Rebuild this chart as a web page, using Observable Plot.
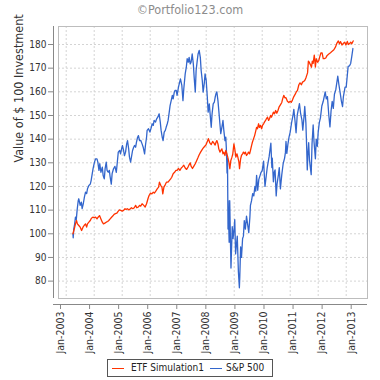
<!DOCTYPE html>
<html>
<head>
<meta charset="utf-8">
<script src="https://cdn.jsdelivr.net/npm/d3@7"></script>
<script src="https://cdn.jsdelivr.net/npm/@observablehq/plot@0.6"></script>
<style>
  html, body { margin: 0; padding: 0; background: #fff; }
  #wrap { position: relative; width: 380px; height: 380px; overflow: hidden; font-family: "DejaVu Sans Condensed", "DejaVu Sans", sans-serif; }
  #title { position: absolute; left: 0; top: 0; width: 380px; height: 20px; line-height: 20px; text-align: center; color: #8c8c8c; font-size: 12.5px; }
  #chart { position: absolute; left: 0; top: 20px; }
  #legend { position: absolute; left: 107px; top: 359px; width: 164px; height: 16px; border: 1px solid #555; background: #fff; font-size: 10px; color: #222; }
  #legend .sw { position: absolute; top: 8px; height: 1px; }
  #legend .lb { position: absolute; top: 0; line-height: 16px; white-space: nowrap; }
</style>
</head>
<body>
<div id="wrap">
  <div id="title">©Portfolio123.com</div>
  <div id="chart"></div>
  <div id="legend"></div>
</div>
<script>
// ---- Data ----
const seriesNames = ["ETF Simulation1", "S&P 500"];
const seriesColors = ["#ff3300", "#3366cc"];
const yLabel = "Value of $ 100 Investment";
const xTickYears = [2003, 2004, 2005, 2006, 2007, 2008, 2009, 2010, 2011, 2012, 2013];
const yTickValues = [80, 90, 100, 110, 120, 130, 140, 150, 160, 170, 180];

// S&P 500 (blue): time in decimal years, value
const spTime = [
2003.24,2003.25,2003.27,2003.30,2003.33,2003.36,2003.39,2003.43,2003.45,2003.50,2003.54,2003.57,2003.61,2003.65,2003.69,2003.73,2003.76,2003.81,2003.86,2003.89,2003.93,2003.96,
2004.01,2004.05,2004.10,2004.13,2004.17,2004.20,2004.24,2004.29,2004.32,2004.36,2004.39,2004.43,2004.46,2004.50,2004.54,2004.57,2004.61,2004.64,2004.69,2004.74,2004.79,2004.82,2004.86,2004.91,2004.94,2004.98,
2005.01,2005.05,2005.08,2005.12,2005.16,2005.19,2005.23,2005.26,2005.30,2005.33,2005.37,2005.41,2005.44,2005.48,2005.51,2005.55,2005.58,2005.62,2005.66,2005.71,2005.75,2005.80,2005.83,2005.87,2005.89,2005.94,2005.99,
2006.04,2006.07,2006.11,2006.14,2006.19,2006.23,2006.27,2006.32,2006.36,2006.39,2006.43,2006.46,2006.50,2006.54,2006.57,2006.61,2006.64,2006.68,2006.71,2006.75,2006.79,2006.82,2006.86,2006.89,2006.93,2006.96,
2007.01,2007.05,2007.08,2007.13,2007.17,2007.20,2007.25,2007.29,2007.32,2007.36,2007.39,2007.43,2007.46,2007.50,2007.54,2007.57,2007.61,2007.64,2007.68,2007.71,2007.75,2007.79,2007.82,2007.86,2007.89,2007.93,2007.96,
2008.00,2008.04,2008.07,2008.11,2008.14,2008.18,2008.21,2008.25,2008.29,2008.32,2008.35,2008.38,2008.42,2008.45,2008.49,2008.52,2008.56,2008.60,2008.63,2008.67,2008.70,2008.72,2008.745,2008.76,2008.78,2008.785,2008.82,2008.84,2008.885,2008.93,2008.96,
2009.00,2009.02,2009.05,2009.11,2009.15,2009.185,2009.20,2009.23,2009.26,2009.30,2009.33,2009.36,2009.40,2009.44,2009.48,2009.52,2009.56,2009.58,2009.62,2009.66,2009.70,2009.74,2009.77,2009.80,2009.84,2009.88,2009.92,2009.96,
2010.00,2010.05,2010.08,2010.10,2010.14,2010.18,2010.25,2010.31,2010.345,2010.36,2010.40,2010.43,2010.46,2010.50,2010.53,2010.58,2010.61,2010.65,2010.70,2010.75,2010.80,2010.83,2010.85,2010.88,2010.92,2010.96,
2011.00,2011.05,2011.10,2011.13,2011.17,2011.21,2011.25,2011.33,2011.37,2011.42,2011.45,2011.49,2011.52,2011.56,2011.59,2011.61,2011.63,2011.66,2011.69,2011.72,2011.75,2011.78,2011.82,2011.85,2011.90,2011.93,2011.97,
2012.00,2012.04,2012.08,2012.13,2012.18,2012.25,2012.29,2012.33,2012.38,2012.42,2012.46,2012.50,2012.54,2012.58,2012.63,2012.70,2012.74,2012.78,2012.83,2012.87,2012.90,2012.96,
2013.00,2013.04,2013.07,2013.12,2013.16,2013.20,2013.24
];
const spValue = [
100,98.3,102,104,107,106,110,114,114.8,112,113.4,110.6,112.7,115.5,117.6,117,119,120.4,121,122.5,125.4,127.5,
130.3,131.7,131.7,130.3,126.8,129.6,126,128.2,124.6,123.2,127.5,130.3,126.8,126,126.8,124,121,125.4,127.5,128.5,126,129.6,134.5,135.2,133.8,136,
137.3,135.2,133,134.5,138,139.4,136,132.4,130.3,132.4,135.2,136.6,137.3,136.6,138.7,140.8,141.5,139.4,139.5,138,136.6,133.8,137.3,140.8,143.7,144.4,143,
145,146.5,145.8,147.9,147.2,148.6,149.3,150.7,147.2,143.7,140.8,139.4,143,143.7,145,146.5,147.9,151.4,154.2,156.3,158.5,157,159.9,160.6,160.6,158.5,
162,164,165.5,162.7,156.3,161.3,167.6,170.4,174,172.5,174.6,171.8,172.5,176,171.8,166.2,159.9,169,173.2,176,177.5,174.6,169,164.8,159.9,163.4,167.6,
164.8,157.7,151.4,154.9,150.7,145,150.7,154.9,155.6,157.7,159.2,160,156.3,152.1,146.5,142.3,145,147.9,143.7,139.4,140.8,136,125.7,132,102,114,96.4,114,85.5,103,98,
102.6,106,91.5,99,84,77.2,82,94.5,90,98,99,105.6,102,107.5,104,100.5,107,112,114,117,116,120,118,124.7,118.4,123,124.5,126,
126.7,130.7,124,120,124,128,132.8,138.3,128,132,122,126,127,116,121,125,128,119,125,129.7,132,134.4,139,134,138,141,
143,147,150,152.6,148,142.7,150,155,151,148,143.8,149,153.8,147,136,127,133,138.5,131,128,125,138,146,139,131.7,140,137,
143,147,149,154,156,160,157,158,150,145.2,152,156,153,159,161,166.6,163,160,156,153.8,158,162,
162,167,170.8,171,172,175,178.3
];

// ETF Simulation1 (red)
const etfTime = [
2003.24,2003.29,2003.33,2003.37,2003.40,2003.45,2003.50,2003.55,2003.60,2003.64,2003.69,2003.73,2003.76,2003.81,2003.86,2003.90,2003.95,
2004.00,2004.05,2004.10,2004.14,2004.19,2004.24,2004.29,2004.33,2004.38,2004.43,2004.48,2004.52,2004.57,2004.62,2004.67,2004.71,2004.76,2004.81,2004.86,2004.90,2004.95,
2005.00,2005.05,2005.10,2005.14,2005.19,2005.24,2005.29,2005.33,2005.38,2005.43,2005.48,2005.52,2005.57,2005.62,2005.66,2005.71,2005.77,2005.82,2005.87,2005.92,2005.96,
2006.01,2006.06,2006.11,2006.15,2006.20,2006.25,2006.30,2006.33,2006.38,2006.42,2006.45,2006.49,2006.54,2006.58,2006.63,2006.68,2006.73,2006.77,2006.82,2006.87,2006.92,2006.96,
2007.01,2007.06,2007.11,2007.15,2007.20,2007.25,2007.30,2007.35,2007.39,2007.43,2007.46,2007.51,2007.56,2007.61,2007.65,2007.70,2007.75,2007.80,2007.85,2007.89,2007.94,2007.99,
2008.04,2008.08,2008.13,2008.18,2008.23,2008.27,2008.32,2008.35,2008.38,2008.42,2008.45,2008.49,2008.52,2008.56,2008.60,2008.63,2008.67,2008.70,2008.74,2008.77,2008.81,2008.845,2008.88,2008.92,2008.95,2008.99,
2009.02,2009.06,2009.10,2009.13,2009.17,2009.19,2009.23,2009.26,2009.30,2009.33,2009.37,2009.40,2009.44,2009.48,2009.51,2009.55,2009.58,2009.62,2009.65,2009.69,2009.73,2009.76,2009.80,2009.83,2009.87,2009.90,2009.94,2009.98,
2010.01,2010.05,2010.08,2010.12,2010.15,2010.19,2010.23,2010.26,2010.30,2010.33,2010.37,2010.40,2010.44,2010.48,2010.52,2010.56,2010.60,2010.65,2010.70,2010.73,2010.77,2010.81,2010.85,2010.90,2010.95,
2011.00,2011.04,2011.08,2011.13,2011.18,2011.22,2011.26,2011.31,2011.35,2011.40,2011.44,2011.49,2011.53,2011.57,2011.62,2011.65,2011.68,2011.72,2011.76,2011.79,2011.82,2011.86,2011.90,2011.93,2011.98,
2012.02,2012.06,2012.10,2012.14,2012.18,2012.22,2012.27,2012.32,2012.38,2012.44,2012.50,2012.56,2012.62,2012.67,2012.72,2012.76,2012.80,2012.85,2012.90,2012.95,2012.99,
2013.04,2013.08,2013.12,2013.16,2013.20,2013.25
];
const etfValue = [
100,102.1,104.2,105.6,104.2,103.5,102.8,101.4,102.8,103.5,104.2,102.8,104.2,104.9,105.6,106.6,107,
106.8,107,106.3,107,107.7,106.3,104.9,104.2,104.5,104.9,105.2,105.6,106.3,107,107.6,108.2,108.5,108.7,109.6,110.1,109.9,
109.6,109.9,110.6,110.3,110.6,110.1,110.6,111,110.6,111,112,111,111.3,112,111.7,112.7,112,111.3,112.7,114.8,116.2,
117.2,116.9,117.6,117.2,118,119,119.7,121.8,120.4,119.7,116.9,119.7,120.8,121.8,121.8,122.5,123.2,123.9,125.4,126,126.8,126.8,
127.6,126.8,127.8,128.3,129,127.8,127.2,128.2,129.2,130,128.6,127.6,128.6,129.6,130.7,132,133.4,134.5,135.5,136.2,136.9,137.5,
139,140.2,138.4,137.7,139,138.4,137.5,138.7,139.4,138,135.9,134.5,135.2,135.9,133.8,134.5,133.1,135.2,133.8,132.4,130.3,127.5,131,132.4,133.8,138,
135.9,132.4,133.8,132.4,130.3,127.5,131.7,133.1,133.8,134.5,133.8,134.5,133.1,133.8,134.5,133.8,135.2,137.3,138.7,140.1,141.5,143,145,144.4,146.5,145,145.8,144.4,
145.8,146.5,147.2,147.9,148.6,149.3,147.9,148.6,150,149.3,150.4,151.4,150.7,152.1,151,152,153.5,154.5,155.5,157,158.5,157.5,157.5,156,155.5,
156,155.6,156.5,158,159,160,160.6,163,163.8,163,164.1,164.5,165,166.2,168,173,172.5,171.5,170.4,173,172,175.5,170.5,174,172.5,
173.2,175,176.5,176.5,174,174,174.3,175.4,176,176.5,177.2,177.8,179,180.6,181.5,180.3,181.2,179.8,180.5,181,179.8,
181.3,180,180.4,181,180.3,181.5
];

// ---- Build tables ----
const sp = spTime.map((t, i) => ({t, v: spValue[i]}));
const etf = etfTime.map((t, i) => ({t, v: etfValue[i]}));

const xDomain = [2002.725, 2013.761];
const yDomain = [72.65, 187.61];
// JFreeChart-style date axis: labels sit slightly off the year gridlines
const xTickPos = xTickYears.map(y => y + (-5.7 + 1.07 * (y - 2003)) / 28);

const grid = {stroke: "#d4d4d4", strokeOpacity: 1, strokeDasharray: "2,2"};

const chart = Plot.plot({
  width: 380,
  height: 340,
  marginTop: 6,
  marginBottom: 62,
  marginLeft: 58,
  marginRight: 13,
  style: {fontFamily: "'DejaVu Sans Condensed', 'DejaVu Sans', sans-serif", fontSize: "10px", color: "#333", background: "white", overflow: "visible"},
  x: {type: "linear", domain: xDomain},
  y: {domain: yDomain},
  marks: [
    Plot.gridX(xTickYears, grid),
    Plot.gridY(yTickValues, grid),
    Plot.frame({stroke: "#bdbdbd"}),
    Plot.line(sp, {x: "t", y: "v", stroke: seriesColors[1], strokeWidth: 1.3}),
    Plot.line(etf, {x: "t", y: "v", stroke: seriesColors[0], strokeWidth: 1.3}),
    Plot.ruleX([xDomain[0]], {dx: -5, stroke: "#888"}),
    Plot.ruleY([yDomain[0]], {dy: 6, x1: xDomain[0] - 5 / 28, x2: xDomain[1], stroke: "#888"}),
    Plot.axisY(yTickValues, {anchor: "left", dx: -5, tickSize: 5, tickPadding: 2, stroke: "#888", fill: "#333", label: null, fontSize: 10}),
    Plot.axisX(xTickPos, {anchor: "bottom", dy: 6, tickSize: 5, tickPadding: 2, tickRotate: -90, stroke: "#888", fill: "#333", label: null, fontSize: 10.5, tickFormat: d => "Jan-" + Math.round(d)}),
    Plot.text([yLabel], {frameAnchor: "left", dx: -40, rotate: -90, fontSize: 12.5, fill: "#333"})
  ]
});
document.getElementById("chart").appendChild(chart);

// ---- Legend ----
const legend = document.getElementById("legend");
const legendItems = [
  {sw: 4, sl: 12, tx: 23},
  {sw: 102, sl: 12, tx: 118}
];
seriesNames.forEach((name, i) => {
  const s = document.createElement("span");
  s.className = "sw";
  s.style.left = legendItems[i].sw + "px";
  s.style.width = legendItems[i].sl + "px";
  s.style.background = seriesColors[i];
  legend.appendChild(s);
  const l = document.createElement("span");
  l.className = "lb";
  l.style.left = legendItems[i].tx + "px";
  l.textContent = name;
  legend.appendChild(l);
});
</script>
</body>
</html>
